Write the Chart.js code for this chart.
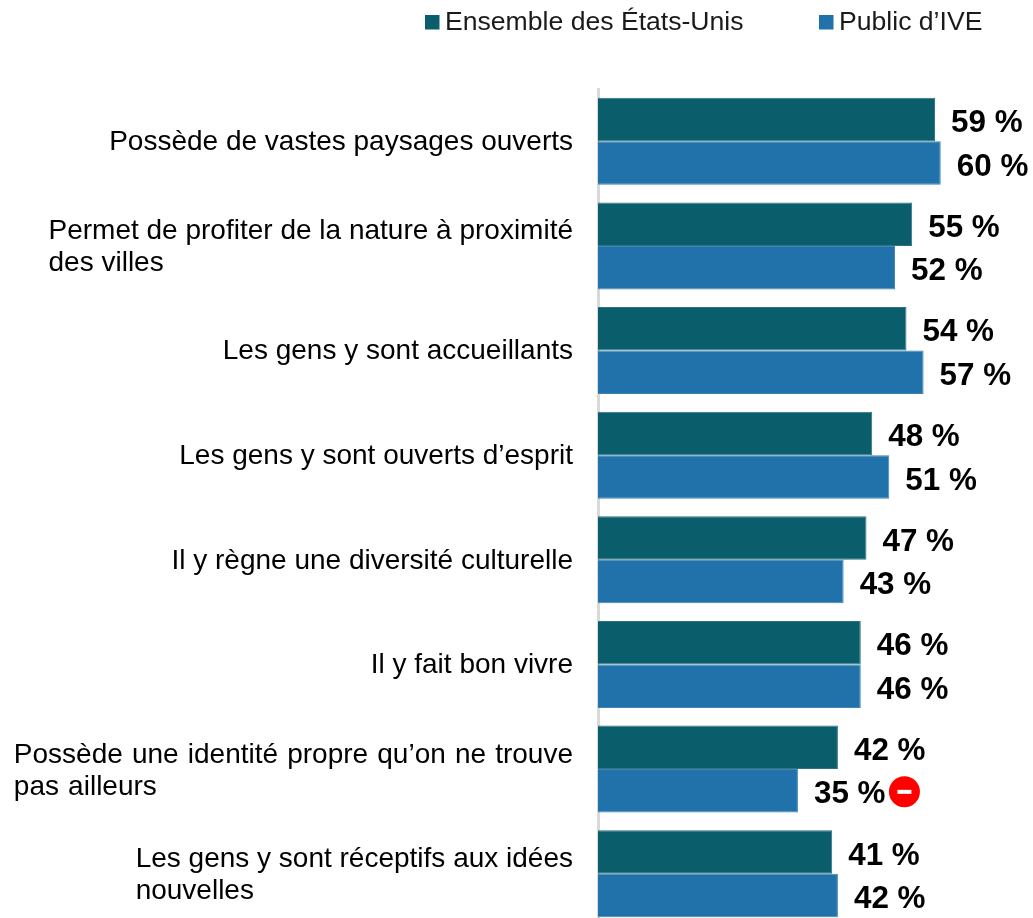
<!DOCTYPE html>
<html lang="fr"><head><meta charset="utf-8">
<style>html,body{margin:0;padding:0;background:#fff;overflow:hidden;width:1033px;height:918px}canvas{display:block}#w{position:relative;width:1033px;height:926px}</style>
<script src="https://cdn.jsdelivr.net/npm/chart.js@4/dist/chart.umd.min.js"></script>
</head><body><div id="w"><canvas id="c"></canvas></div>
<script>
const categories = [
  ["Possède de vastes paysages ouverts"],
  ["Permet de profiter de la nature à proximité","des villes"],
  ["Les gens y sont accueillants"],
  ["Les gens y sont ouverts d’esprit"],
  ["Il y règne une diversité culturelle"],
  ["Il y fait bon vivre"],
  ["Possède une identité propre qu’on ne trouve","pas ailleurs"],
  ["Les gens y sont réceptifs aux idées","nouvelles"]
];
const ensembleUS = [59,55,54,48,47,46,42,41];
const publicIVE = [60,52,57,51,43,46,35,42];
const seriesNames = ["Ensemble des États-Unis","Public d’IVE"];
const seriesColors = ["#0A5D6B","#2172AB"];
const borderColors = ["#2F7482","#3F84B4"];
const FONT = '"Liberation Sans", Arial, sans-serif';

const overlay = {
  id:'overlay',
  afterDatasetsDraw(chart){
    const {ctx,scales:{y}} = chart;
    ctx.save();
    ctx.fillStyle='#000'; ctx.font='28px '+FONT; ctx.textBaseline='middle'; ctx.textAlign='left';
    categories.forEach((lines,i)=>{
      ctx.wordSpacing = i===6 ? '1.35px' : '0px';
      const w=Math.max(...lines.map(l=>ctx.measureText(l).width));
      const cy=y.getPixelForTick(i)+(i>=6?2:1), lh=32;
      lines.forEach((l,k)=>ctx.fillText(l,573-w,cy+(k-(lines.length-1)/2)*lh));
    });
    ctx.wordSpacing='0px';
    ctx.font='bold 31.4px '+FONT;
    chart.data.datasets.forEach((ds,d)=>{
      chart.getDatasetMeta(d).data.forEach((bar,i)=>{
        ctx.fillStyle='#000';
        ctx.fillText(ds.data[i]+' %',bar.x+16,bar.y+4);
      });
    });
    const mi=publicIVE.indexOf(35), b=chart.getDatasetMeta(1).data[mi];
    const mx=b.x+106.5, my=b.y+1;
    ctx.beginPath(); ctx.arc(mx,my,15.5,0,Math.PI*2); ctx.fillStyle='#FF0000'; ctx.fill();
    ctx.fillStyle='#fff'; ctx.fillRect(mx-7,my-2,14,4);
    const lx=[425,819];
    ctx.font='26.6px '+FONT;
    seriesNames.forEach((n,i)=>{
      ctx.fillStyle=seriesColors[i]; ctx.fillRect(lx[i],15,14.5,14.5);
      ctx.fillStyle='#1a1a1a'; ctx.fillText(n,lx[i]+20,23);
    });
    ctx.restore();
  }
};

new Chart(document.getElementById('c'),{
  type:'bar',
  data:{
    labels:categories,
    datasets:[
      {label:seriesNames[0],data:ensembleUS,backgroundColor:seriesColors[0],borderColor:borderColors[0],borderWidth:1},
      {label:seriesNames[1],data:publicIVE,backgroundColor:seriesColors[1],borderColor:borderColors[1],borderWidth:1}
    ]
  },
  options:{
    indexAxis:'y',responsive:true,maintainAspectRatio:false,animation:false,
    layout:{padding:{left:590,top:89,right:0,bottom:0}},
    datasets:{bar:{categoryPercentage:0.832,barPercentage:1}},
    plugins:{legend:{display:false},tooltip:{enabled:false}},
    scales:{
      x:{display:false,min:0,max:76.15},
      y:{grid:{display:false},ticks:{display:false},border:{display:true,color:'#D9D9D9',width:3}}
    }
  },
  plugins:[overlay]
});
</script></body></html>
